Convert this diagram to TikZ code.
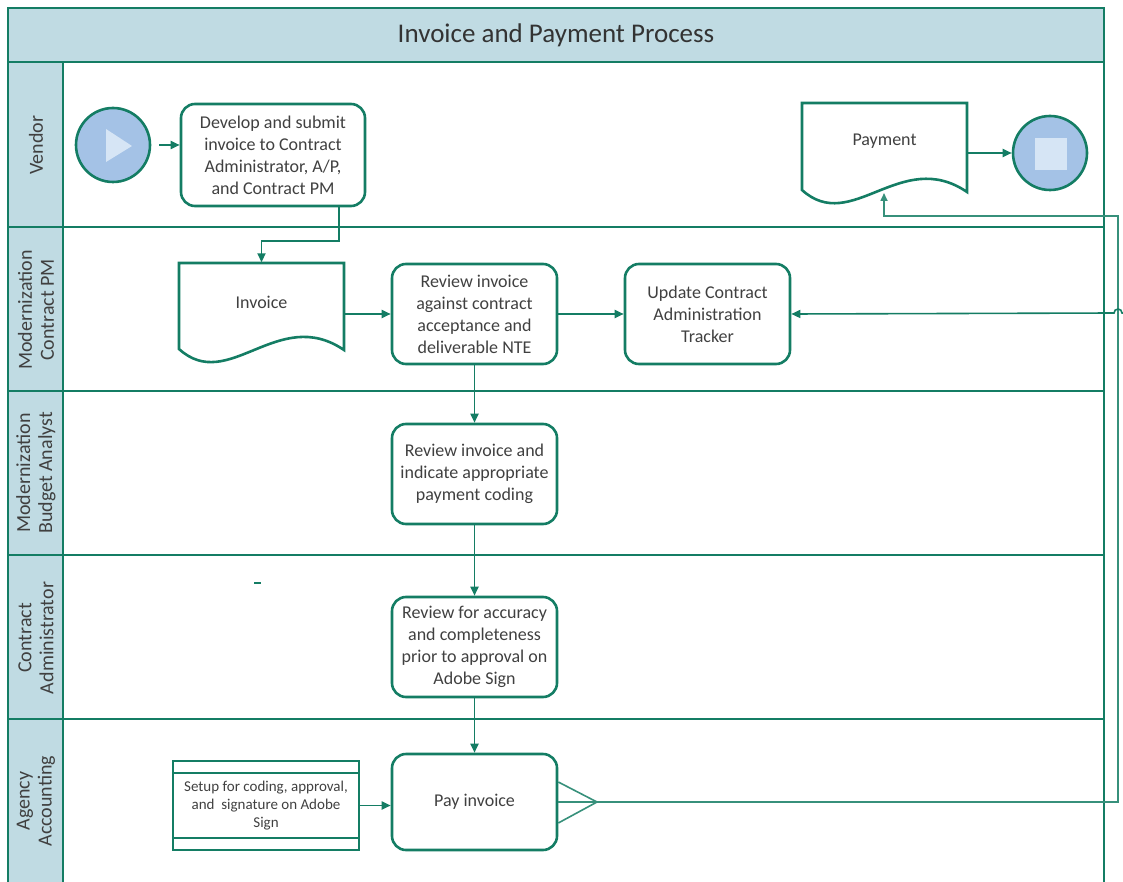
\documentclass[tikz,border=0pt]{standalone}
\usepackage{fontspec}
\setmainfont{Carlito}
\usetikzlibrary{arrows.meta,calc}
\definecolor{lg}{RGB}{20,125,100}
\definecolor{hdr}{RGB}{192,219,227}
\definecolor{evfill}{RGB}{164,194,230}
\definecolor{evin}{RGB}{214,229,245}
\definecolor{txt}{RGB}{64,64,64}
\begin{document}
\begin{tikzpicture}[x=1pt,y=-1pt,
  frame/.style={draw=lg, line width=2.6pt},
  proc/.style={draw=lg, line width=2.6pt, rounded corners=14pt, align=center, text=txt,
    font=\fontsize{18}{22}\selectfont, inner sep=2pt, minimum width=165pt, minimum height=100pt},
  doctxt/.style={text=txt, font=\fontsize{18}{22}\selectfont, inner sep=0pt},
  docbox/.style={minimum width=165pt, minimum height=87pt, inner sep=0pt},
  docline/.style={draw=lg, line width=2.6pt, fill=white, line join=miter},
  lanelab/.style={rotate=90, align=center, text=txt, font=\fontsize{20}{22}\selectfont, inner sep=0pt},
  event/.style={circle, draw=lg, line width=2.6pt, fill=evfill, minimum size=74pt, inner sep=0pt},
  conn/.style={draw=lg, line width=1.8pt, -{Triangle[length=9pt,width=8pt]}},
  retline/.style={draw=lg!85, line width=1.6pt},
  setupbox/.style={draw=lg, line width=2.4pt, align=center, text=txt,
    font=\fontsize{15}{18}\selectfont, minimum width=186pt, minimum height=89pt, inner sep=0pt}
]
\useasboundingbox (0,0) rectangle (1123,882);
% header fills
\fill[hdr] (8,8) rectangle (1104,62);
\fill[hdr] (8,62) rectangle (63,882);
% frame and lanes
\draw[frame] (8,882) -- (8,8) -- (1104,8) -- (1104,882);
\draw[frame] (8,62) -- (1104,62);
\draw[frame] (63,62) -- (63,882);
\foreach \yy in {227,391,555,719} \draw[frame] (8,\yy) -- (1104,\yy);
% title
\node[text=txt!80!black, font=\fontsize{27}{30}\selectfont] (title) at (556,35) {Invoice and Payment Process};
% lane labels
\node[lanelab] (lv) at (36,145) {Vendor};
\node[lanelab] (lpm) at (36,310) {Modernization\\Contract PM};
\node[lanelab] (lba) at (36,473) {Modernization\\Budget Analyst};
\node[lanelab] (lca) at (36,638) {Contract\\Administrator};
\node[lanelab] (laa) at (36,801) {Agency\\Accounting};
% vendor lane
\node[event] (start) at (113,145) {};
\fill[evin] (106,129) -- (106,162) -- (132,146) -- cycle;
\node[proc, minimum width=184pt, minimum height=102pt] (dev) at (273,155) {Develop and submit\\invoice to Contract\\Administrator, A/P,\\and Contract PM};
% payment document
\draw[docline] (802,103) -- (967,103) -- (967,192) .. controls (901,147) and (851.5,235) .. (802,190) -- cycle;
\node[docbox] (pmt) at (884.5,147) {};
\node[doctxt] (pmtl) at (884.5,141) {Payment};
\node[event] (endev) at (1050,153) {};
\fill[evin] (1035,138) rectangle (1067,170);
% PM lane
\draw[docline] (179,263) -- (344,263) -- (344,350) .. controls (278,305) and (228.5,394) .. (179,349) -- cycle;
\node[docbox] (inv) at (261.5,306) {};
\node[doctxt] (invl) at (261.5,302) {Invoice};
\node[proc] (rev) at (474.5,314) {Review invoice\\against contract\\acceptance and\\deliverable NTE};
\node[proc] (upd) at (707.5,314) {Update Contract\\Administration\\Tracker};
% budget lane
\node[proc] (bud) at (474.5,474) {Review invoice and\\indicate appropriate\\payment coding};
% CA lane
\node[proc] (ca) at (474.5,647) {Review for accuracy\\and completeness\\prior to approval on\\Adobe Sign};
\draw[lg, line width=1.5pt] (254,583) -- (261,583);
% accounting lane
\node[proc, minimum height=96pt] (pay) at (474.5,802) {Pay invoice};
\node[setupbox] (setup) at (266,805.5) {Setup for coding, approval,\\and\ \ signature on Adobe\\Sign};
\draw[lg, line width=2.4pt] ([yshift=-13pt]setup.north west) -- ([yshift=-13pt]setup.north east);
\draw[lg, line width=2.4pt] ([yshift=13pt]setup.south west) -- ([yshift=13pt]setup.south east);
% coordinates
\coordinate (fk) at (597,802);
\coordinate (rtop) at (1118,216);
\coordinate (pa) at (884,193);
\coordinate (trk) at (1123,313);
% connectors
\draw[conn] ([xshift=8pt]start.east) -- (dev.west |- start);
\draw[conn] ([xshift=-27pt]dev.south east) -- ++(0,34) -| (inv.north);
\draw[conn] (rev -| inv.east) -- (rev.west);
\draw[conn] (rev.east) -- (upd.west);
\draw[conn] (rev.south) -- (bud.north);
\draw[conn] (bud.south) -- (ca.north);
\draw[conn] (ca.south) -- (pay.north);
\draw[conn] (setup.east) -- (pay.west |- setup);
\draw[conn] (endev -| pmt.east) -- (endev.west);
% fork and return
\draw[retline] ([yshift=20pt]pay.east) -- (fk);
\draw[retline] ([yshift=-21pt]pay.east) -- (fk);
\draw[retline] (pay.east) -- (fk);
\draw[retline, -{Triangle[length=8pt,width=7pt]}] (fk) -| (rtop) -| (pa);
\draw[conn, line width=1.6pt] (trk) -- ++(-1,0) arc[start angle=0, end angle=-180, radius=4] -- (upd.east);
\end{tikzpicture}
\end{document}
